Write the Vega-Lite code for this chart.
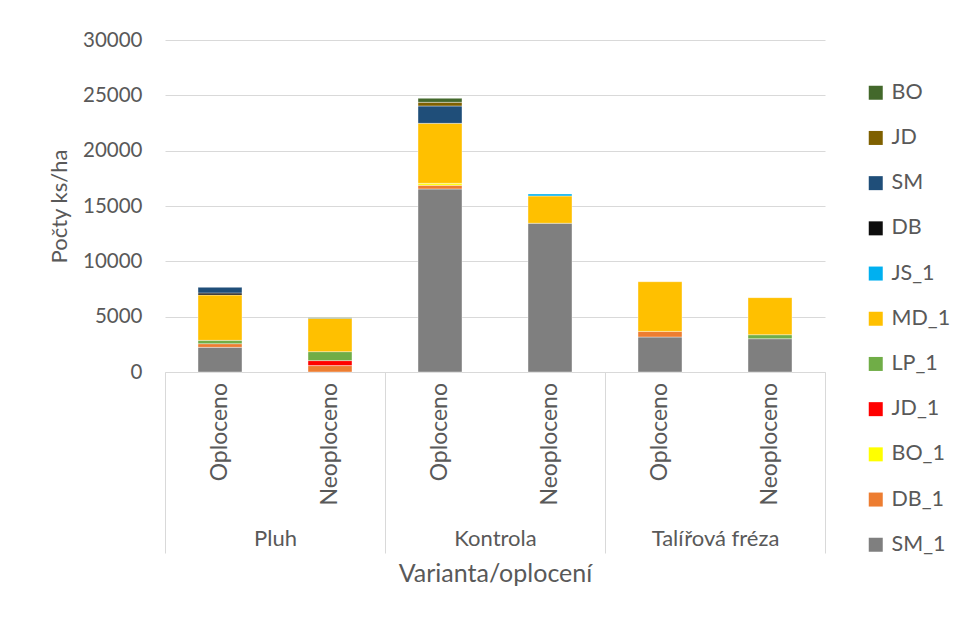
{
  "$schema": "https://vega.github.io/schema/vega-lite/v6.json",
  "width": 660,
  "height": 332,
  "autosize": {"type": "none"},
  "padding": {"left": 165, "top": 40, "right": 140, "bottom": 245},
  "background": "white",
  "config": {
    "font": "Lato",
    "view": {"stroke": null},
    "axis": {"labelColor": "#595959", "titleColor": "#595959", "labelFont": "Lato", "titleFont": "Lato", "titleFontWeight": "normal"},
    "legend": {"labelColor": "#595959", "labelFont": "Lato"}
  },
  "data": {
    "values": [
      {"group": "Pluh", "fence": "Oploceno", "species": "SM_1", "value": 2230},
      {"group": "Pluh", "fence": "Oploceno", "species": "DB_1", "value": 330},
      {"group": "Pluh", "fence": "Oploceno", "species": "LP_1", "value": 300},
      {"group": "Pluh", "fence": "Oploceno", "species": "MD_1", "value": 4100},
      {"group": "Pluh", "fence": "Oploceno", "species": "DB", "value": 180},
      {"group": "Pluh", "fence": "Oploceno", "species": "SM", "value": 510},
      {"group": "Pluh", "fence": "Neoploceno", "species": "DB_1", "value": 580},
      {"group": "Pluh", "fence": "Neoploceno", "species": "JD_1", "value": 450},
      {"group": "Pluh", "fence": "Neoploceno", "species": "LP_1", "value": 810},
      {"group": "Pluh", "fence": "Neoploceno", "species": "MD_1", "value": 3000},
      {"group": "Pluh", "fence": "Neoploceno", "species": "BO", "value": 60},
      {"group": "Kontrola", "fence": "Oploceno", "species": "SM_1", "value": 16540},
      {"group": "Kontrola", "fence": "Oploceno", "species": "DB_1", "value": 330},
      {"group": "Kontrola", "fence": "Oploceno", "species": "BO_1", "value": 180},
      {"group": "Kontrola", "fence": "Oploceno", "species": "MD_1", "value": 5420},
      {"group": "Kontrola", "fence": "Oploceno", "species": "SM", "value": 1570},
      {"group": "Kontrola", "fence": "Oploceno", "species": "JD", "value": 330},
      {"group": "Kontrola", "fence": "Oploceno", "species": "BO", "value": 360},
      {"group": "Kontrola", "fence": "Neoploceno", "species": "SM_1", "value": 13440},
      {"group": "Kontrola", "fence": "Neoploceno", "species": "MD_1", "value": 2470},
      {"group": "Kontrola", "fence": "Neoploceno", "species": "JS_1", "value": 180},
      {"group": "Talířová fréza", "fence": "Oploceno", "species": "SM_1", "value": 3160},
      {"group": "Talířová fréza", "fence": "Oploceno", "species": "DB_1", "value": 510},
      {"group": "Talířová fréza", "fence": "Oploceno", "species": "MD_1", "value": 4490},
      {"group": "Talířová fréza", "fence": "Neoploceno", "species": "SM_1", "value": 3010},
      {"group": "Talířová fréza", "fence": "Neoploceno", "species": "LP_1", "value": 360},
      {"group": "Talířová fréza", "fence": "Neoploceno", "species": "MD_1", "value": 3350}
    ]
  },
  "transform": [
    {"calculate": "indexof(['BO','JD','SM','DB','JS_1','MD_1','LP_1','JD_1','BO_1','DB_1','SM_1'], datum.species)", "as": "ord"}
  ],
  "encoding": {
    "x": {
      "field": "group",
      "type": "nominal",
      "sort": ["Pluh", "Kontrola", "Talířová fréza"],
      "scale": {"paddingInner": 0, "paddingOuter": 0},
      "axis": {
        "title": "Varianta/oplocení",
        "titleFontSize": 25,
        "titlePadding": 8,
        "labelAngle": 0,
        "labelFontSize": 22,
        "labelPadding": -15,
        "labelBaseline": "middle",
        "domainColor": "#d9d9d9",
        "tickColor": "#d9d9d9",
        "tickBand": "extent",
        "tickSize": 181,
        "grid": false
      }
    },
    "xOffset": {
      "field": "fence",
      "type": "nominal",
      "sort": ["Oploceno", "Neoploceno"],
      "scale": {"paddingInner": 0.6, "paddingOuter": 0.3}
    }
  },
  "layer": [
    {
      "mark": {"type": "bar", "stroke": "white", "strokeWidth": 0.4},
      "encoding": {
        "y": {
          "field": "value",
          "type": "quantitative",
          "aggregate": "sum",
          "stack": "zero",
          "scale": {"domain": [0, 30000], "nice": false},
          "axis": {
            "title": "Počty ks/ha",
            "titleFontSize": 22,
            "titlePadding": 11,
            "values": [0, 5000, 10000, 15000, 20000, 25000, 30000],
            "format": "d",
            "labelFontSize": 20.5,
            "labelPadding": 23,
            "domain": false,
            "ticks": false,
            "gridColor": "#d9d9d9",
            "gridWidth": 1.2
          }
        },
        "color": {
          "field": "species",
          "type": "nominal",
          "scale": {
            "domain": ["BO", "JD", "SM", "DB", "JS_1", "MD_1", "LP_1", "JD_1", "BO_1", "DB_1", "SM_1"],
            "range": ["#43682B", "#7F6000", "#1F4E79", "#0D0D0D", "#00B0F0", "#FFC000", "#70AD47", "#FF0000", "#FFFF00", "#ED7D31", "#7F7F7F"]
          },
          "legend": {
            "title": null,
            "orient": "none",
            "legendX": 700,
            "legendY": 42,
            "symbolType": "square",
            "symbolSize": 196,
            "symbolStrokeWidth": 0,
            "labelFontSize": 21.5,
            "labelOffset": 5,
            "rowPadding": 22.2
          }
        },
        "order": {"field": "ord", "type": "quantitative", "sort": "descending"}
      }
    },
    {
      "transform": [{"filter": "datum.species == 'MD_1'"}],
      "mark": {"type": "text", "angle": 270, "align": "right", "baseline": "middle", "dx": -11, "fontSize": 23, "color": "#595959", "font": "Lato"},
      "encoding": {
        "y": {"datum": 0, "type": "quantitative"},
        "text": {"field": "fence"}
      }
    }
  ]
}
